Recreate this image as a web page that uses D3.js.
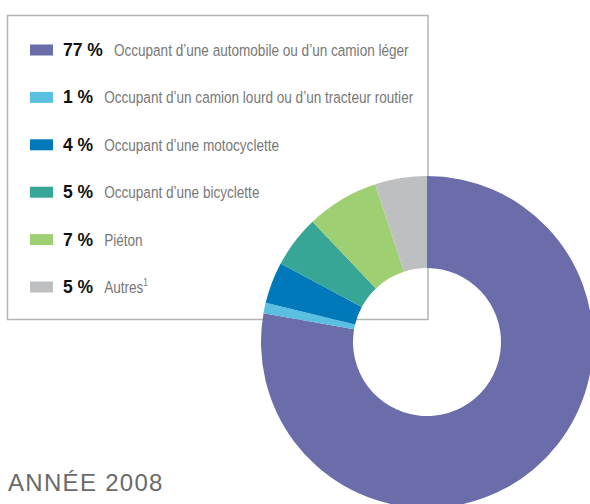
<!DOCTYPE html>
<html>
<head>
<meta charset="utf-8">
<script src="https://cdn.jsdelivr.net/npm/d3@7"></script>
<style>
  html, body { margin: 0; padding: 0; background: #fff; }
  svg { display: block; }
</style>
</head>
<body>
<svg id="chart" width="590" height="504"></svg>
<script>
const categories = [
  "Occupant d\u2019une automobile ou d\u2019un camion léger",
  "Occupant d\u2019un camion lourd ou d\u2019un tracteur routier",
  "Occupant d\u2019une motocyclette",
  "Occupant d\u2019une bicyclette",
  "Piéton",
  "Autres"
];
const values = [77, 1, 4, 5, 7, 5];
const colors = ["#6b6dab", "#5bbfe2", "#0079ba", "#37a696", "#9fcf73", "#bebfc1"];
const footnotes = ["", "", "", "", "", "1"];
const yearLabel = "ANNÉE 2008";

const svg = d3.select("#chart");

// Legend box
svg.append("rect")
  .attr("x", 7.5).attr("y", 15.5)
  .attr("width", 420.5).attr("height", 304)
  .attr("fill", "#fff")
  .attr("stroke", "#b4b4b4")
  .attr("stroke-width", 1.5);

const rowY = d3.scalePoint().domain(d3.range(categories.length)).range([50, 287]);

// measure scale for condensed labels
const probe = svg.append("text")
  .attr("font-family", "'Liberation Sans', Arial, sans-serif")
  .attr("font-size", 16.5)
  .text(categories[0]);
const condense = 295 / probe.node().getComputedTextLength();
probe.remove();

const legend = svg.append("g");
categories.forEach((c, i) => {
  const y = rowY(i);
  legend.append("rect")
    .attr("x", 30).attr("y", y - 5.5)
    .attr("width", 23).attr("height", 11)
    .attr("fill", colors[i]);
  const pct = legend.append("text")
    .attr("x", 63).attr("y", y + 6)
    .attr("font-family", "'Liberation Sans', Arial, sans-serif")
    .attr("font-weight", "bold")
    .attr("font-size", 17.5)
    .attr("fill", "#111")
    .text(values[i] + " %");
  const w = pct.node().getComputedTextLength();
  const lab = legend.append("text")
    .attr("y", y + 6)
    .attr("font-family", "'Liberation Sans', Arial, sans-serif")
    .attr("font-size", 16.5)
    .attr("fill", "#777");
  const x0 = 63 + w + 11;
  lab.attr("transform", `translate(${x0},0) scale(${condense},1)`);
  lab.append("tspan").attr("x", 0).text(c);
  if (footnotes[i]) {
    lab.append("tspan").attr("dy", -7).attr("font-size", 10).text(footnotes[i]);
  }
});

// Donut
const cx = 427, cy = 342, rOuter = 166, rInner = 74;
const pie = d3.pie().sort(null).value(d => d);
const arc = d3.arc().innerRadius(rInner).outerRadius(rOuter);
svg.append("g")
  .attr("transform", `translate(${cx},${cy})`)
  .selectAll("path")
  .data(pie(values))
  .join("path")
  .attr("d", arc)
  .attr("fill", (d, i) => colors[i]);

// Year label
svg.append("text")
  .attr("x", 8).attr("y", 491)
  .attr("font-family", "'Liberation Sans', Arial, sans-serif")
  .attr("font-size", 24)
  .attr("letter-spacing", 1.3)
  .attr("fill", "#6a6a6a")
  .text(yearLabel);
</script>
</body>
</html>
